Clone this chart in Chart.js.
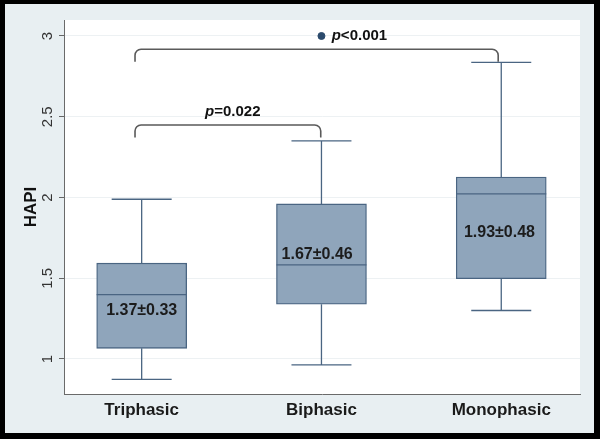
<!DOCTYPE html>
<html><head><meta charset="utf-8">
<script src="https://cdn.jsdelivr.net/npm/chart.js@4"></script>
<style>html,body{margin:0;padding:0;background:#000;}#wrap{width:600px;height:439px;}</style>
</head><body><div id="wrap"><canvas id="c" width="600" height="439"></canvas></div>
<script>
const categories = ['Triphasic', 'Biphasic', 'Monophasic'];
const whiskerLow = [0.874, 0.963, 1.300];
const q1 = [1.066, 1.339, 1.497];
const median = [1.398, 1.582, 2.022];
const q3 = [1.593, 1.960, 2.127];
const whiskerHigh = [1.989, 2.350, 2.837];
const outlierX = [2];
const outlierY = [3.0];
const boxLabels = ['1.37\u00B10.33', '1.67\u00B10.46', '1.93\u00B10.48'];
const boxLabelX = [1.0, 1.976, 2.99];
const boxLabelY = [1.299, 1.644, 1.785];
const yTicks = [1, 1.5, 2, 2.5, 3];
const yTickLabels = ['1', '1.5', '2', '2.5', '3'];
const bracketFrom = [0.963, 0.963];
const bracketTo = [1.996, 2.983];
const bracketLevel = [2.449, 2.918];
const bracketEnd = [2.372, 2.840];
const pItalic = ['p', 'p'];
const pRest = ['=0.022', '<0.001'];
const pLabelX = [1.507, 2.057];
const pLabelY = [2.529, 3.0];
const pLabelAlign = ['center', 'left'];

const FONT = '"Liberation Sans", Arial, sans-serif';
Chart.defaults.font.family = FONT;

const bgPlugin = {
  id: 'bg',
  beforeDraw(chart) {
    const {ctx, chartArea: a} = chart;
    ctx.save();
    ctx.fillStyle = '#000';
    ctx.fillRect(0, 0, 600, 439);
    ctx.fillStyle = '#e8eff2';
    ctx.fillRect(5, 4, 589, 429);
    ctx.fillStyle = '#fff';
    ctx.fillRect(a.left, a.top, a.right - a.left, a.bottom - a.top);
    ctx.restore();
  }
};

const boxPlugin = {
  id: 'boxparts',
  beforeDatasetsDraw(chart) {
    const {ctx, scales: {x, y}} = chart;
    const meta = chart.getDatasetMeta(0);
    ctx.save();
    ctx.strokeStyle = '#4a6582';
    ctx.lineWidth = 1.3;
    categories.forEach((c, i) => {
      const el = meta.data[i];
      const cx = el.x;
      const half = el.width / 3;
      const yLo = y.getPixelForValue(whiskerLow[i]);
      const yHi = y.getPixelForValue(whiskerHigh[i]);
      const yQ1 = y.getPixelForValue(q1[i]);
      const yQ3 = y.getPixelForValue(q3[i]);
      ctx.beginPath();
      ctx.moveTo(cx, yQ3); ctx.lineTo(cx, yHi);
      ctx.moveTo(cx - half, yHi); ctx.lineTo(cx + half, yHi);
      ctx.moveTo(cx, yQ1); ctx.lineTo(cx, yLo);
      ctx.moveTo(cx - half, yLo); ctx.lineTo(cx + half, yLo);
      ctx.stroke();
    });
    ctx.restore();
  },
  afterDatasetsDraw(chart) {
    const {ctx, scales: {x, y}} = chart;
    const meta = chart.getDatasetMeta(0);
    ctx.save();
    // medians
    ctx.strokeStyle = '#4a6582';
    ctx.lineWidth = 1.3;
    categories.forEach((c, i) => {
      const el = meta.data[i];
      const ym = y.getPixelForValue(median[i]);
      ctx.beginPath();
      ctx.moveTo(el.x - el.width / 2, ym);
      ctx.lineTo(el.x + el.width / 2, ym);
      ctx.stroke();
    });
    // box labels
    ctx.fillStyle = '#1c1c1c';
    ctx.font = 'bold 16px ' + FONT;
    ctx.textAlign = 'center';
    ctx.textBaseline = 'middle';
    boxLabels.forEach((t, i) => {
      ctx.fillText(t, x.getPixelForValue(boxLabelX[i]), y.getPixelForValue(boxLabelY[i]));
    });
    // brackets
    ctx.strokeStyle = '#5a5a5a';
    ctx.lineWidth = 1.6;
    const r = 6;
    bracketLevel.forEach((lv, i) => {
      const x1 = x.getPixelForValue(bracketFrom[i]);
      const x2 = x.getPixelForValue(bracketTo[i]);
      const yt = y.getPixelForValue(lv);
      const ye = y.getPixelForValue(bracketEnd[i]);
      ctx.beginPath();
      ctx.moveTo(x1, ye);
      ctx.lineTo(x1, yt + r);
      ctx.arcTo(x1, yt, x1 + r, yt, r);
      ctx.lineTo(x2 - r, yt);
      ctx.arcTo(x2, yt, x2, yt + r, r);
      ctx.lineTo(x2, ye);
      ctx.stroke();
    });
    // p labels
    ctx.fillStyle = '#111';
    ctx.textBaseline = 'middle';
    ctx.textAlign = 'left';
    pRest.forEach((t, i) => {
      const fi = 'italic bold 15px ' + FONT;
      const fb = 'bold 15px ' + FONT;
      ctx.font = fi; const w1 = ctx.measureText(pItalic[i]).width;
      ctx.font = fb; const w2 = ctx.measureText(t).width;
      let px = x.getPixelForValue(pLabelX[i]);
      const py = y.getPixelForValue(pLabelY[i]);
      if (pLabelAlign[i] === 'center') px -= (w1 + w2) / 2;
      ctx.font = fi; ctx.fillText(pItalic[i], px, py);
      ctx.font = fb; ctx.fillText(t, px + w1, py);
    });
    ctx.restore();
  }
};

new Chart(document.getElementById('c'), {
  type: 'bar',
  data: {
    datasets: [
      {
        type: 'bar',
        data: categories.map((c, i) => ({x: i + 1, y: [q1[i], q3[i]]})),
        backgroundColor: '#8fa5bb',
        borderColor: '#4a6582',
        borderWidth: 1.3,
        borderSkipped: false,
        barThickness: 90
      },
      {
        type: 'scatter',
        data: outlierX.map((v, i) => ({x: v, y: outlierY[i]})),
        pointRadius: 3.5,
        backgroundColor: '#2b4a6c',
        borderColor: '#2b4a6c',
        showLine: false
      }
    ]
  },
  options: {
    responsive: false,
    animation: false,
    layout: {padding: {left: 0, top: 20, right: 20, bottom: 0}},
    plugins: {legend: {display: false}, tooltip: {enabled: false}},
    scales: {
      x: {
        type: 'linear', min: 0.568, max: 3.438, offset: false,
        afterBuildTicks: s => { s.ticks = categories.map((c, i) => ({value: i + 1})); },
        afterFit: s => { s.height = 45; },
        ticks: {
          callback: v => categories[v - 1] || '',
          font: {size: 17, weight: 'bold'}, color: '#1a1a1a', padding: 6,
          autoSkip: false, maxRotation: 0, minRotation: 0
        },
        grid: {display: false, drawTicks: false, offset: false},
        border: {color: '#6a6a6a', width: 1}
      },
      y: {
        type: 'linear', min: 0.783, max: 3.099,
        afterBuildTicks: s => { s.ticks = yTicks.map(v => ({value: v})); },
        afterFit: s => { s.width = 64; },
        ticks: {
          callback: v => { const k = yTicks.indexOf(v); return k >= 0 ? yTickLabels[k] : ''; },
          minRotation: 90, maxRotation: 90, crossAlign: 'center', padding: 1,
          font: {size: 15}, color: '#333'
        },
        grid: {color: '#edf1f3', tickColor: '#666', tickLength: 5, drawTicks: true},
        border: {color: '#6a6a6a', width: 1},
        title: {display: true, text: 'HAPI', font: {size: 17, weight: 'bold'}, color: '#111', padding: {top: 21.5, bottom: 0}}
      }
    }
  },
  plugins: [bgPlugin, boxPlugin]
});
</script>
</body></html>
